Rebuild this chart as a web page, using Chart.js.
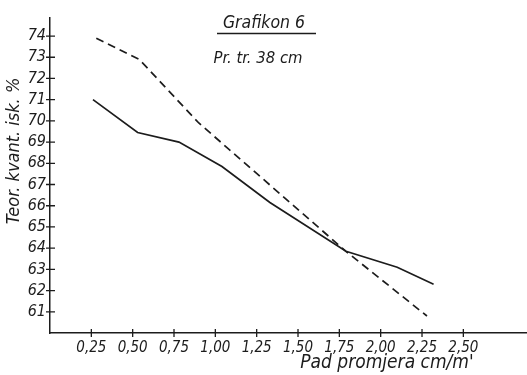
<!DOCTYPE html>
<html>
<head>
<meta charset="utf-8">
<script src="https://cdn.jsdelivr.net/npm/chart.js@4/dist/chart.umd.min.js"></script>
<style>
  html, body { margin: 0; padding: 0; background: #fff; }
  #wrap { width: 527px; height: 375px; }
</style>
</head>
<body>
<div id="wrap"><canvas id="chart"></canvas></div>
<script>
// values
const solidX = [0.26, 0.53, 0.78, 1.04, 1.33, 1.79, 2.10, 2.32]
const solidY = [71.0, 69.45, 69.0, 67.85, 66.15, 63.85, 63.1, 62.3]
const dashedX = [0.28, 0.54, 0.90, 1.79, 2.28]
const dashedY = [73.9, 72.9, 69.9, 63.85, 60.8]
const xTicks = [0.25, 0.50, 0.75, 1.00, 1.25, 1.50, 1.75, 2.00, 2.25, 2.50]
const yTicks = [61, 62, 63, 64, 65, 66, 67, 68, 69, 70, 71, 72, 73, 74]

const ink = '#1c1c1c'
const fam = '"Liberation Sans Narrow", "DejaVu Sans Condensed", "DejaVu Sans", sans-serif'

const toPoints = (xs, ys) => xs.map((x, i) => ({ x: x, y: ys[i] }))

// tick marks crossing the axis lines, like the drawn original
const crossTicks = {
  id: 'crossTicks',
  afterDraw(c) {
    const ctx = c.ctx
    const xs = c.scales.x
    const ys = c.scales.y
    const a = c.chartArea
    ctx.save()
    ctx.strokeStyle = ink
    ctx.lineWidth = 1.3
    ctx.beginPath()
    xTicks.forEach(v => {
      const px = xs.getPixelForValue(v)
      ctx.moveTo(px, a.bottom - 4)
      ctx.lineTo(px, a.bottom + 4)
    })
    yTicks.forEach(v => {
      const py = ys.getPixelForValue(v)
      ctx.moveTo(a.left - 4, py)
      ctx.lineTo(a.left + 5, py)
    })
    ctx.stroke()

    // titles
    ctx.fillStyle = ink
    ctx.textAlign = 'center'
    ctx.textBaseline = 'alphabetic'
    ctx.font = 'italic 17.5px ' + fam
    ctx.fillText('Grafikon 6', 264, 28)
    ctx.font = 'italic 16.5px ' + fam
    ctx.fillText('Pr. tr. 38 cm', 258, 63)
    ctx.beginPath()
    ctx.lineWidth = 1.5
    ctx.moveTo(217, 33.5)
    ctx.lineTo(316, 33.5)
    ctx.stroke()

    ctx.font = 'italic 19px ' + fam
    ctx.fillText("Pad promjera cm/m'", 387, 368)

    ctx.translate(19, 151)
    ctx.rotate(-Math.PI / 2)
    ctx.font = 'italic 18px ' + fam
    ctx.fillText('Teor. kvant. isk. %', 0, 0)
    ctx.restore()
  }
}

const chart = new Chart(document.querySelector('#chart').getContext('2d'), {
  type: 'scatter',
  data: {
    datasets: [
      {
        data: toPoints(solidX, solidY),
        showLine: true,
        borderColor: ink,
        borderWidth: 1.7,
        pointRadius: 0,
        tension: 0
      },
      {
        data: toPoints(dashedX, dashedY),
        showLine: true,
        borderColor: ink,
        borderWidth: 1.7,
        borderDash: [8, 5],
        pointRadius: 0,
        tension: 0
      }
    ]
  },
  options: {
    responsive: true,
    maintainAspectRatio: false,
    animation: false,
    layout: { padding: { top: 18, left: 0, right: 0, bottom: 0 } },
    plugins: {
      legend: { display: false },
      tooltip: { enabled: false }
    },
    scales: {
      x: {
        type: 'linear',
        min: 0,
        max: 2.885,
        afterBuildTicks: s => { s.ticks = xTicks.map(v => ({ value: v })) },
        afterFit: s => { s.height = 42 },
        grid: { display: false, drawTicks: false },
        border: { color: ink, width: 1.5 },
        ticks: {
          autoSkip: false,
          maxRotation: 0,
          padding: 6,
          color: ink,
          font: { family: fam, size: 15, style: 'italic' },
          callback: v => v.toFixed(2).replace('.', ',')
        }
      },
      y: {
        type: 'linear',
        min: 60,
        max: 74.85,
        afterBuildTicks: s => { s.ticks = yTicks.map(v => ({ value: v })) },
        afterFit: s => { s.width = 50 },
        grid: { display: false, drawTicks: false },
        border: { color: ink, width: 1.5 },
        ticks: {
          autoSkip: false,
          padding: 4,
          color: ink,
          font: { family: fam, size: 16, style: 'italic' },
          callback: v => String(v)
        }
      }
    }
  },
  plugins: [crossTicks]
})
</script>
</body>
</html>
